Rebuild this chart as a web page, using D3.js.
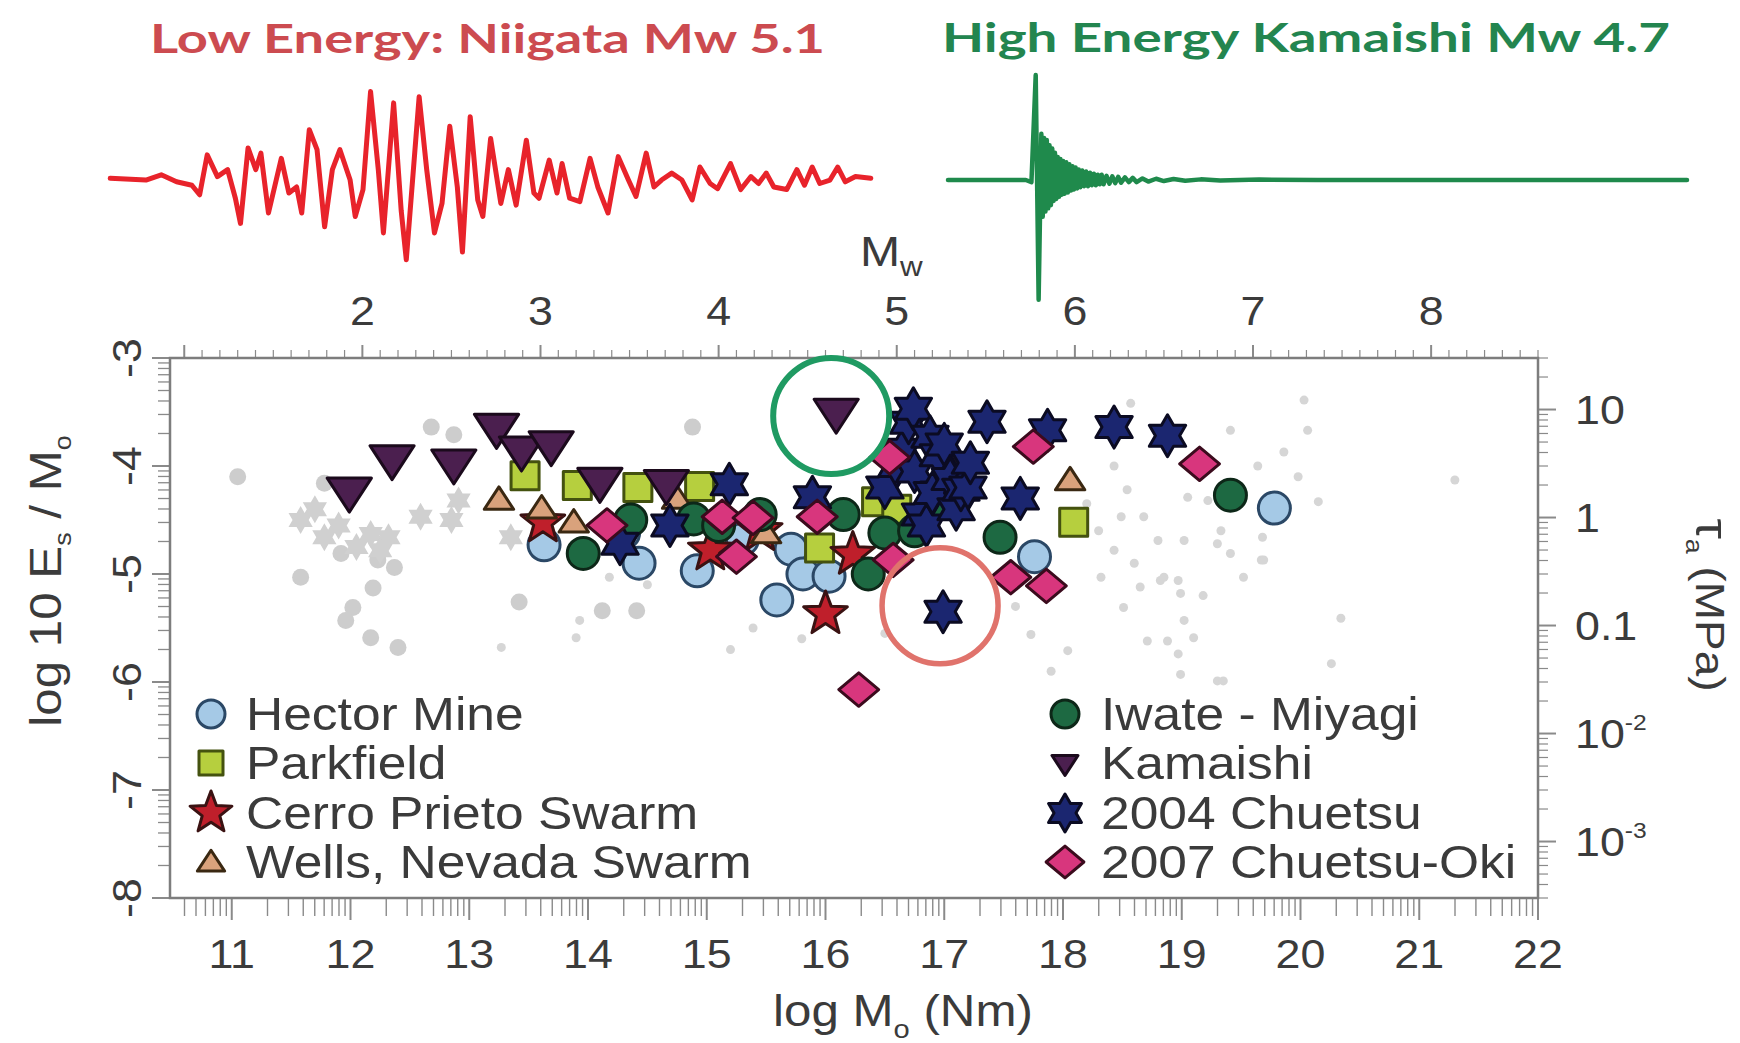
<!DOCTYPE html>
<html>
<head>
<meta charset="utf-8">
<script src="https://cdn.jsdelivr.net/npm/d3@7"></script>
<style>
  html, body { margin: 0; padding: 0; background: #fff; }
  svg { display: block; }
</style>
</head>
<body>
<svg id="chart" width="1740" height="1043"></svg>
<script>
// ---------- Seismograms (time in s, normalised amplitude) ----------
const niigataWave = [
  [0.5,0],[2.25,-0.02],[3.0,0.04],[3.75,-0.04],[4.5,-0.08],[4.88,-0.19],[5.25,0.27],[5.75,0.02],
  [6.25,0.10],[6.63,-0.23],[6.88,-0.52],[7.25,0.35],[7.63,0.10],[7.88,0.29],[8.25,-0.40],[8.63,-0.02],
  [8.88,0.23],[9.25,-0.17],[9.63,-0.10],[9.88,-0.40],[10.25,0.56],[10.63,0.33],[11.0,-0.56],[11.38,0.10],
  [11.75,0.33],[12.25,-0.02],[12.5,-0.44],[12.88,-0.13],[13.25,1.0],[13.63,0.10],[13.88,-0.63],[14.38,0.87],
  [14.75,-0.37],[15.0,-0.94],[15.63,0.94],[16.0,0.10],[16.38,-0.63],[16.75,-0.29],[17.13,0.60],[17.5,-0.10],
  [17.75,-0.85],[18.13,0.71],[18.5,-0.25],[18.75,-0.44],[19.13,0.46],[19.63,-0.29],[20.0,0.10],[20.38,-0.31],
  [20.88,0.44],[21.25,-0.17],[21.5,-0.23],[22.0,0.21],[22.38,-0.17],[22.63,0.17],[23.0,-0.23],[23.5,-0.27],
  [24.0,0.23],[24.38,-0.10],[24.88,-0.40],[25.38,0.25],[25.88,-0.02],[26.25,-0.21],[26.75,0.29],[27.13,-0.10],
  [27.5,-0.02],[28.0,0.06],[28.5,-0.02],[29.0,-0.25],[29.38,0.13],[29.88,-0.06],[30.25,-0.12],[30.88,0.17],
  [31.38,-0.13],[31.88,0.02],[32.25,-0.06],[32.63,0.06],[33.0,-0.10],[33.63,-0.13],[34.13,0.10],[34.5,-0.08],
  [34.88,0.13],[35.25,-0.06],[35.75,-0.02],[36.13,0.13],[36.5,-0.04],[37.0,0.02],[37.75,0]
];
const kamaishiWave = [
  [0,0],[4.0,0],[4.29,-0.02],[4.51,1.0],[4.66,-1.14],[4.8,0.44],[4.87,-0.35],[4.94,0.40],[5.01,-0.30],
  [5.08,0.38],[5.15,-0.27],[5.22,0.33],[5.29,-0.24],[5.36,0.30],[5.43,-0.20],[5.5,0.26],[5.57,-0.18],
  [5.64,0.22],[5.71,-0.16],[5.78,0.20],[5.85,-0.14],[5.92,0.18],[6.0,-0.13],[6.08,0.17],[6.16,-0.12],
  [6.24,0.15],[6.32,-0.10],[6.4,0.13],[6.48,-0.09],[6.56,0.12],[6.64,-0.08],[6.72,0.10],[6.8,-0.07],
  [6.9,0.09],[7.0,-0.06],[7.1,0.08],[7.2,-0.06],[7.3,0.07],[7.4,-0.05],[7.5,0.06],[7.6,-0.05],
  [7.7,0.05],[7.8,-0.04],[7.9,0.05],[8.0,-0.04],[8.15,0.04],[8.3,-0.035],[8.45,0.035],[8.6,-0.03],
  [8.75,0.03],[8.9,-0.025],[9.1,0.025],[9.3,-0.02],[9.5,0.02],[9.7,-0.02],[10.0,0.015],[10.3,-0.015],
  [10.7,0.012],[11.1,-0.01],[11.6,0.01],[12.2,-0.008],[13.0,0.006],[14.0,-0.005],[16.0,0.004],[19.0,0],[38.0,0]
];

// ---------- Scatter data: [log10 Mo (Nm), log10 Es/Mo] ----------
const grayDots = [
  [11.05,-4.1],[12.68,-3.64],[12.87,-3.71],[11.78,-4.16],[11.58,-5.03],[12.19,-5.13],[12.02,-5.31],
  [11.96,-5.43],[12.17,-5.59],[12.40,-5.68],[13.42,-5.26],[11.92,-4.81],[12.23,-4.87],[12.37,-4.94],
  [14.88,-3.64],[14.12,-5.34],[14.41,-5.34]
];
const grayStars = [
  [11.58,-4.5],[11.78,-4.66],[12.17,-4.63],[12.32,-4.66],[12.59,-4.47],[12.85,-4.5],[12.91,-4.32],
  [13.35,-4.66],[11.9,-4.55],[12.05,-4.75],[12.25,-4.78],[11.7,-4.4]
];
const graySmall = [
  [13.93,-5.43],[13.9,-5.59],[15.39,-5.5],[14.18,-5.03],[13.27,-5.68],
  [18.57,-3.42],[19.41,-3.67],[18.43,-4.0],[18.54,-4.22],[18.68,-4.47],[18.49,-4.47],[18.8,-4.69],
  [19.02,-4.69],[18.43,-4.78],[18.32,-5.03],[18.65,-5.12],[18.85,-5.03],[18.97,-5.06],[18.99,-5.18],
  [18.51,-5.31],[19.02,-5.43],[19.1,-5.59],[18.71,-5.62],[18.88,-5.62],[18.97,-5.74],[18.99,-5.93],
  [18.04,-5.71],[17.73,-5.56],[19.3,-5.99],[19.22,-4.32],[19.33,-4.6],[19.64,-4.0],[19.52,-5.03],
  [19.67,-4.87],[19.41,-4.81],[20.03,-3.39],[20.06,-3.67],[19.86,-3.87],[19.98,-4.1],[20.15,-4.33],
  [19.05,-4.29],[19.68,-4.66],[19.69,-4.87],[20.34,-5.41],[20.26,-5.83],[21.3,-4.13],[19.35,-5.99],
  [19.3,-4.72],[18.82,-5.06],[19.18,-5.2],[18.6,-4.9],[18.2,-4.35],[18.3,-4.6],[17.6,-5.3],
  [17.9,-5.9],[16.5,-5.55],[15.8,-5.6],[14.5,-5.1],[15.2,-5.7]
];
const hectorMine = [
  [13.63,-4.73],[14.3,-4.62],[14.43,-4.9],[14.92,-4.97],[15.3,-4.68],[15.59,-5.24],[15.71,-4.77],
  [15.81,-5.0],[16.03,-5.02],[17.76,-4.84],[19.78,-4.39]
];
const parkfield = [
  [13.47,-4.09],[13.91,-4.18],[14.42,-4.2],[14.94,-4.19],[15.95,-4.76],[18.09,-4.52],[16.43,-4.33],[16.6,-4.4]
];
const cerroPrieto = [
  [13.62,-4.52],[15.03,-4.78],[15.45,-4.6],[16.23,-4.82],[16.0,-5.37]
];
const wellsNevada = [
  [13.25,-4.31],[13.61,-4.39],[13.88,-4.52],[14.75,-4.3],[15.5,-4.62],[18.06,-4.13],[17.03,-3.95]
];
const iwateMiyagi = [
  [13.96,-4.81],[14.36,-4.5],[14.89,-4.49],[15.1,-4.55],[15.45,-4.45],[16.15,-4.45],[16.36,-5.0],
  [16.5,-4.62],[16.75,-4.6],[16.94,-4.35],[17.47,-4.66],[19.41,-4.27]
];
const kamaishi = [
  [11.99,-4.23],[12.35,-3.93],[12.87,-3.97],[13.23,-3.64],[13.44,-3.85],[13.69,-3.8],[14.1,-4.14],
  [14.66,-4.16],[16.09,-3.5]
];
const chuetsu2004 = [
  [14.27,-4.72],[14.69,-4.55],[15.19,-4.17],[15.89,-4.29],[16.5,-4.2],[16.6,-4.0],[16.65,-3.85],
  [16.7,-3.6],[16.74,-3.47],[16.75,-4.05],[16.8,-4.45],[16.85,-4.55],[16.88,-3.73],[16.9,-4.25],
  [16.95,-3.9],[17.0,-3.8],[17.05,-4.12],[17.1,-4.4],[17.14,-4.22],[17.2,-4.2],[17.22,-3.97],
  [17.36,-3.59],[17.64,-4.3],[17.87,-3.67],[18.43,-3.64],[18.88,-3.72],[16.99,-5.35]
];
const chuetsuOki = [
  [14.16,-4.55],[15.13,-4.47],[15.39,-4.48],[15.25,-4.84],[15.93,-4.47],[16.54,-3.92],[16.57,-4.87],
  [16.28,-6.07],[17.75,-3.82],[19.15,-3.98],[17.56,-5.03],[17.86,-5.11]
];
// events singled out by the two rings
const highEnergyEvent = kamaishi[8];
const lowEnergyEvent = chuetsu2004[26];

// ---------- Axis ticks ----------
const moTicks = [11,12,13,14,15,16,17,18,19,20,21,22];
const mwTicks = [2,3,4,5,6,7,8];
const ratioTicks = [-3,-4,-5,-6,-7,-8];
const stressTicks = [
  {v: 1, base: "10", sup: ""},
  {v: 0, base: "1", sup: ""},
  {v: -1, base: "0.1", sup: ""},
  {v: -2, base: "10", sup: "-2"},
  {v: -3, base: "10", sup: "-3"}
];
const LOG_MU = Math.log10(3e4); // rigidity in MPa: log tau_a = log(Es/Mo) + log mu

// ---------- Layout ----------
const svg = d3.select("#chart");
const P = {left: 170, right: 1538, top: 358, bottom: 898};
const x = d3.scaleLinear().domain([10.48, 22]).range([P.left, P.right]);
const y = d3.scaleLinear().domain([-8, -3]).range([P.bottom, P.top]);
const mwToMo = mw => 1.5 * mw + 9.1;
const FONT = "'Liberation Sans', Arial, Helvetica, sans-serif";
const TXT = "#3b3b3b";
const SX = 1.12; // horizontal stretch of the sans text

// ---------- Symbol shapes ----------
function polygon(pts) { return "M" + pts.map(p => p[0].toFixed(2) + "," + p[1].toFixed(2)).join("L") + "Z"; }
function starPts(n, R, r) {
  const pts = [];
  for (let k = 0; k < 2 * n; k++) {
    const a = -Math.PI / 2 + k * Math.PI / n;
    const rad = k % 2 ? r : R;
    pts.push([rad * Math.cos(a), rad * Math.sin(a)]);
  }
  return pts;
}
const shapes = {
  circle: s => `M${s},0A${s},${s} 0 1,1 ${-s},0A${s},${s} 0 1,1 ${s},0Z`,
  square: s => polygon([[-s,-s],[s,-s],[s,s],[-s,s]]),
  star5: s => polygon(starPts(5, s, s * 0.42)),
  hexagram: s => polygon(starPts(6, s, s / Math.sqrt(3))),
  triUp: s => polygon([[0,-s*0.9],[s*1.05,s*0.7],[-s*1.05,s*0.7]]),
  triDown: s => polygon([[-s*1.3,-s*0.75],[s*1.3,-s*0.75],[0,s*1.25]]),
  diamond: s => polygon([[0,-s*0.88],[s*1.05,0],[0,s*0.88],[-s*1.05,0]])
};

const series = [
  {name: "Hector Mine", data: hectorMine, shape: "circle", size: 16, legSize: 14, fill: "#a5c9e6", stroke: "#2b4866", col: 0, row: 0},
  {name: "Parkfield", data: parkfield, shape: "square", size: 14, legSize: 12, fill: "#b6cf3e", stroke: "#44520f", col: 0, row: 1},
  {name: "Cerro Prieto Swarm", data: cerroPrieto, shape: "star5", size: 23, legSize: 22, fill: "#bf1f2b", stroke: "#3a1212", col: 0, row: 2},
  {name: "Wells, Nevada Swarm", data: wellsNevada, shape: "triUp", size: 14, legSize: 13, fill: "#d9a27c", stroke: "#3a2812", col: 0, row: 3},
  {name: "Iwate - Miyagi", data: iwateMiyagi, shape: "circle", size: 16, legSize: 14, fill: "#1d6942", stroke: "#0d2718", col: 1, row: 0},
  {name: "Kamaishi", data: kamaishi, shape: "triDown", size: 17, legSize: 10, fill: "#4b1f4f", stroke: "#1b0a1c", col: 1, row: 1},
  {name: "2004 Chuetsu", data: chuetsu2004, shape: "hexagram", size: 21, legSize: 19, fill: "#1b2670", stroke: "#0b0b22", col: 1, row: 2},
  {name: "2007 Chuetsu-Oki", data: chuetsuOki, shape: "diamond", size: 19, legSize: 18, fill: "#d8367d", stroke: "#3b0b1d", col: 1, row: 3}
];

// ---------- Seismograms ----------
const xRed = d3.scaleLinear().domain([0, 38.2]).range([100, 880]);
const yRed = d3.scaleLinear().domain([-1, 1]).range([265, 91.6]);
svg.append("path")
  .attr("d", d3.line().x(d => xRed(d[0])).y(d => yRed(d[1]))(niigataWave))
  .attr("fill", "none").attr("stroke", "#e8232b").attr("stroke-width", 5)
  .attr("stroke-linejoin", "round").attr("stroke-linecap", "round");

const xGreen = d3.scaleLinear().domain([0, 38]).range([948, 1687]);
const yGreen = d3.scaleLinear().domain([-1, 1]).range([285, 75]);
svg.append("path")
  .attr("d", d3.line().x(d => xGreen(d[0])).y(d => yGreen(d[1]))(kamaishiWave))
  .attr("fill", "none").attr("stroke", "#1f8a4c").attr("stroke-width", 4.5)
  .attr("stroke-linejoin", "round").attr("stroke-linecap", "round");

// titles
svg.append("text").attr("x", 150).attr("y", 53)
  .attr("textLength", 675).attr("lengthAdjust", "spacingAndGlyphs")
  .style("font-family", "Lato, 'Open Sans', sans-serif").style("font-weight", 700).style("font-size", "40px")
  .attr("fill", "#cc4b50").text("Low Energy: Niigata Mw 5.1");
svg.append("text").attr("x", 942).attr("y", 52)
  .attr("textLength", 728).attr("lengthAdjust", "spacingAndGlyphs")
  .style("font-family", "Lato, 'Open Sans', sans-serif").style("font-weight", 700).style("font-size", "40px")
  .attr("fill", "#23854f").text("High Energy Kamaishi Mw 4.7");

// ---------- Frame and ticks ----------
const axisG = svg.append("g");
const tickColor = "#8a8a8a";
function tickLine(x1, y1, x2, y2, w) {
  axisG.append("line").attr("x1", x1).attr("y1", y1).attr("x2", x2).attr("y2", y2)
    .attr("stroke", tickColor).attr("stroke-width", w);
}
// bottom: log-spaced minor ticks within each decade of Mo
for (let n = 10; n <= 21; n++) {
  for (let k = 1; k <= 9; k++) {
    const v = n + Math.log10(k);
    if (v < x.domain()[0] || v > x.domain()[1]) continue;
    tickLine(x(v), P.bottom, x(v), P.bottom + (k === 1 ? 22 : 18), k === 1 ? 2 : 1.4);
  }
}
tickLine(x(22), P.bottom, x(22), P.bottom + 22, 2);
// top: Mw ticks every 0.1
for (let i = 9; i <= 86; i++) {
  const mw = i / 10, v = mwToMo(mw);
  if (v < x.domain()[0] || v > x.domain()[1]) continue;
  const major = i % 10 === 0;
  tickLine(x(v), P.top, x(v), P.top - (major ? 13 : 8), major ? 2 : 1.2);
}
// left: log-spaced ticks on Es/Mo
for (let n = -8; n <= -4; n++) {
  for (let k = 1; k <= 9; k++) {
    const v = n + Math.log10(k);
    tickLine(P.left, y(v), P.left - (k === 1 ? 18 : 12), y(v), k === 1 ? 2 : 1.3);
  }
}
tickLine(P.left, y(-3), P.left - 18, y(-3), 2);
// right: log-spaced ticks on tau_a
for (let n = -4; n <= 1; n++) {
  for (let k = 1; k <= 9; k++) {
    const v = n + Math.log10(k) - LOG_MU;
    if (v < -8 || v > -3) continue;
    tickLine(P.right, y(v), P.right + (k === 1 ? 18 : 10), y(v), k === 1 ? 2 : 1.2);
  }
}
// frame
axisG.append("rect").attr("x", P.left).attr("y", P.top)
  .attr("width", P.right - P.left).attr("height", P.bottom - P.top)
  .attr("fill", "none").attr("stroke", "#7d7d7d").attr("stroke-width", 2.5);

// tick labels
const labelG = svg.append("g").style("font-family", FONT).attr("fill", TXT);
moTicks.forEach(t => {
  labelG.append("text").attr("transform", `translate(${x(t)},968) scale(${SX},1)`)
    .attr("text-anchor", "middle").style("font-size", "40px").text(t);
});
mwTicks.forEach(t => {
  labelG.append("text").attr("transform", `translate(${x(mwToMo(t))},325) scale(${SX},1)`)
    .attr("text-anchor", "middle").style("font-size", "40px").text(t);
});
ratioTicks.forEach(t => {
  labelG.append("text").attr("transform", `translate(141,${y(t)}) rotate(-90) scale(${SX},1)`)
    .attr("text-anchor", "middle").style("font-size", "40px").text(t);
});
stressTicks.forEach(t => {
  const tx = labelG.append("text")
    .attr("transform", `translate(1575,${y(t.v - LOG_MU) + 14}) scale(${SX},1)`)
    .style("font-size", "40px");
  tx.append("tspan").text(t.base);
  if (t.sup) tx.append("tspan").attr("dy", -18).style("font-size", "22px").text(t.sup);
});

// axis titles
const bottomTitle = labelG.append("text").attr("transform", `translate(903,1026) scale(${SX},1)`)
  .attr("text-anchor", "middle").style("font-size", "44px");
bottomTitle.append("tspan").text("log M");
bottomTitle.append("tspan").attr("dy", 12).style("font-size", "26px").text("o");
bottomTitle.append("tspan").attr("dy", -12).text(" (Nm)");

const topTitle = labelG.append("text").attr("transform", `translate(860,266) scale(${SX},1)`)
  .style("font-size", "43px");
topTitle.append("tspan").text("M");
topTitle.append("tspan").attr("dy", 10).style("font-size", "28px").text("w");

const leftTitle = labelG.append("text").attr("transform", `translate(61,581) rotate(-90) scale(${SX},1)`)
  .attr("text-anchor", "middle").style("font-size", "44px");
leftTitle.append("tspan").text("log 10 E");
leftTitle.append("tspan").attr("dy", 10).style("font-size", "24px").text("s");
leftTitle.append("tspan").attr("dy", -10).text(" / M");
leftTitle.append("tspan").attr("dy", 10).style("font-size", "24px").text("o");

const rightTitle = labelG.append("text").attr("transform", `translate(1696,605) rotate(90) scale(${SX},1)`)
  .attr("text-anchor", "middle").style("font-size", "41px");
rightTitle.append("tspan").style("font-size", "46px").text("τ");
rightTitle.append("tspan").attr("dy", 10).style("font-size", "24px").text("a");
rightTitle.append("tspan").attr("dy", -10).text(" (MPa)");

// ---------- Scatter ----------
const plotG = svg.append("g");
const place = d => `translate(${x(d[0])},${y(d[1])})`;
plotG.append("g").selectAll("path").data(grayDots).join("path")
  .attr("transform", place).attr("d", shapes.circle(8.5)).attr("fill", "#cdcdcd");
plotG.append("g").selectAll("path").data(grayStars).join("path")
  .attr("transform", place).attr("d", shapes.hexagram(14)).attr("fill", "#d0d0d0");
plotG.append("g").selectAll("path").data(graySmall).join("path")
  .attr("transform", place).attr("d", shapes.circle(4.5)).attr("fill", "#d6d6d6");

series.forEach(s => {
  plotG.append("g").selectAll("path").data(s.data).join("path")
    .attr("transform", place)
    .attr("d", shapes[s.shape](s.size))
    .attr("fill", s.fill).attr("stroke", s.stroke).attr("stroke-width", 3)
    .attr("stroke-linejoin", "round");
});

// rings around the two contrasting events
plotG.append("circle").attr("cx", x(highEnergyEvent[0]) - 5).attr("cy", y(highEnergyEvent[1]) + 4)
  .attr("r", 58).attr("fill", "none").attr("stroke", "#1f9a62").attr("stroke-width", 6);
plotG.append("circle").attr("cx", x(lowEnergyEvent[0]) - 3).attr("cy", y(lowEnergyEvent[1]) - 6)
  .attr("r", 58).attr("fill", "none").attr("stroke", "#e0736c").attr("stroke-width", 5.5);

// ---------- Legend ----------
const legendG = svg.append("g");
const legCol = [{sym: 211, txt: 246}, {sym: 1065, txt: 1101}];
const legRow = [714, 763, 813, 862];
series.forEach(s => {
  const cx = legCol[s.col].sym, cy = legRow[s.row];
  legendG.append("path").attr("transform", `translate(${cx},${cy})`)
    .attr("d", shapes[s.shape](s.legSize))
    .attr("fill", s.fill).attr("stroke", s.stroke).attr("stroke-width", 3).attr("stroke-linejoin", "round");
  legendG.append("text").attr("transform", `translate(${legCol[s.col].txt},${cy + 16}) scale(${SX},1)`)
    .style("font-family", FONT).style("font-size", "46px").attr("fill", TXT).text(s.name);
});
</script>
</body>
</html>
